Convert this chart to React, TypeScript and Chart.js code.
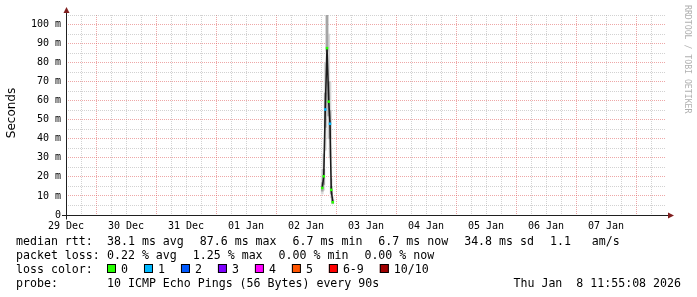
import React, { useEffect, useRef } from 'react';
import { Chart, registerables } from 'chart.js';

Chart.register(...registerables);

// x axis: hours since 29 Dec 12:00 (10 day window)
const dayLabels = ['29 Dec', '30 Dec', '31 Dec', '01 Jan', '02 Jan', '03 Jan', '04 Jan', '05 Jan', '06 Jan', '07 Jan'];
const yTickLabels = ['0', '10 m', '20 m', '30 m', '40 m', '50 m', '60 m', '70 m', '80 m', '90 m', '100 m'];

const sampleHours = [102.5, 103.1, 103.7, 104.4, 105.1, 105.6, 106.1, 106.7];
const medianMs = [14.2, 20.3, 55.4, 87.6, 59.5, 47.9, 13.2, 6.7];
const lossCount = [0, 0, 1, 0, 0, 1, 0, 0];
const smokeLowMs = [11, 13, 34, 56, 40, 30, 9, 5.8];
const smokeHighMs = [24, 32, 80, 105, 95, 70, 19, 9.5];
const smokeCoreLowMs = [12.5, 16, 46, 86, 52, 40, 11, 6.2];
const smokeCoreHighMs = [17, 24, 64, 105, 70, 55, 15, 8];

const lossLabels = ['0', '1', '2', '3', '4', '5', '6-9', '10/10'];
const lossColors = ['#26ff00', '#00b8ff', '#0059ff', '#7e00ff', '#ff00ff', '#ff5500', '#ff0000', '#a10000'];

const rttStats = ['38.1 ms avg', '87.6 ms max', '6.7 ms min', '6.7 ms now', '34.8 ms sd', '1.1   am/s'];
const lossStats = ['0.22 % avg', '1.25 % max', '0.00 % min', '0.00 % now'];
const probeText = '10 ICMP Echo Pings (56 Bytes) every 90s';
const stampText = 'Thu Jan  8 11:55:08 2026';

const lossIndex = (c: number) => (c <= 5 ? c : c < 10 ? 6 : 7);

const MONO = '"DejaVu Sans Mono", monospace';

const rrdPlugin = {
  id: 'rrdDecor',
  afterDatasetsDraw(chart: any) {
    const { ctx, chartArea: a } = chart;
    const x0 = Math.round(a.left) + 0.5;
    const y0 = Math.round(a.bottom) + 0.5;
    const xr = Math.round(a.right);
    const yt = Math.round(a.top);
    ctx.save();
    ctx.strokeStyle = '#1f1f1f';
    ctx.lineWidth = 1;
    ctx.beginPath();
    ctx.moveTo(x0 - 4.5, y0);
    ctx.lineTo(xr + 4, y0);
    ctx.moveTo(x0, y0 + 4);
    ctx.lineTo(x0, yt - 4);
    ctx.stroke();
    ctx.fillStyle = '#801f1f';
    ctx.beginPath();
    ctx.moveTo(xr + 2, y0 - 3);
    ctx.lineTo(xr + 2, y0 + 3);
    ctx.lineTo(xr + 8, y0);
    ctx.closePath();
    ctx.fill();
    ctx.beginPath();
    ctx.moveTo(x0 - 3, yt - 2);
    ctx.lineTo(x0 + 3, yt - 2);
    ctx.lineTo(x0, yt - 8);
    ctx.closePath();
    ctx.fill();
    ctx.restore();
  },
  afterDraw(chart: any) {
    const { ctx } = chart;
    ctx.save();
    ctx.fillStyle = '#000';
    // y axis title
    ctx.save();
    ctx.font = '12px "DejaVu Sans", sans-serif';
    ctx.translate(14.5, 113);
    ctx.rotate(-Math.PI / 2);
    ctx.textAlign = 'center';
    ctx.textBaseline = 'alphabetic';
    ctx.fillText('Seconds', 0, 0);
    ctx.restore();
    // watermark
    ctx.save();
    ctx.font = '8.2px ' + MONO;
    ctx.fillStyle = '#b0b0b0';
    ctx.translate(685, 5);
    ctx.rotate(Math.PI / 2);
    ctx.textAlign = 'left';
    ctx.textBaseline = 'alphabetic';
    ctx.fillText('RRDTOOL / TOBI OETIKER', 0, 0);
    ctx.restore();
    // legend
    ctx.font = '11.6px ' + MONO;
    ctx.textAlign = 'left';
    ctx.textBaseline = 'alphabetic';
    const labelX = 16;
    const startX = 107;
    const gap = 16;
    const b1 = 245, b2 = 259, b3 = 273, b4 = 287;
    const row = (label: string, items: string[], base: number) => {
      ctx.fillText(label, labelX, base);
      let x = startX;
      for (const it of items) {
        ctx.fillText(it, x, base);
        x += ctx.measureText(it).width + gap;
      }
    };
    row('median rtt:', rttStats, b1);
    row('packet loss:', lossStats, b2);
    ctx.fillText('loss color:', labelX, b3);
    let x = startX;
    lossLabels.forEach((lab, i) => {
      ctx.fillStyle = lossColors[i];
      ctx.fillRect(x, b3 - 9, 9, 9);
      ctx.strokeStyle = '#000';
      ctx.lineWidth = 1;
      ctx.strokeRect(x + 0.5, b3 - 8.5, 8, 8);
      ctx.fillStyle = '#000';
      ctx.fillText(lab, x + 14, b3);
      x += 14 + ctx.measureText(lab).width + gap;
    });
    ctx.fillText('probe:', labelX, b4);
    ctx.fillText(probeText, startX, b4);
    ctx.textAlign = 'right';
    ctx.fillText(stampText, 681, b4);
    ctx.restore();
  },
};

const GREY = 'rgba(143,143,143,0.4)';
const RED = 'rgba(222,79,79,0.5)';

export default function App() {
  const ref = useRef<HTMLCanvasElement>(null);
  useEffect(() => {
    if (!ref.current) return;
    const chart = new Chart(ref.current, {
      type: 'line',
      data: {
        datasets: [
          {
            type: 'line',
            data: sampleHours.map((h, i) => ({ x: h, y: medianMs[i] })),
            borderColor: '#1c1c1c',
            borderWidth: 1.6,
            tension: 0,
            pointStyle: 'rect',
            pointRadius: 1.8,
            pointBorderWidth: 0,
            pointBackgroundColor: lossCount.map((c) => lossColors[lossIndex(c)]),
            order: 1,
          } as any,
          {
            type: 'bar',
            data: sampleHours.map((h, i) => ({ x: h, y: [smokeCoreLowMs[i], smokeCoreHighMs[i]] })),
            backgroundColor: '#a4a4a4',
            borderWidth: 0,
            barThickness: 2,
            grouped: false,
            order: 2,
          } as any,
          {
            type: 'bar',
            data: sampleHours.map((h, i) => ({ x: h, y: [smokeLowMs[i], smokeHighMs[i]] })),
            backgroundColor: '#dadada',
            borderWidth: 0,
            barThickness: 2,
            grouped: false,
            order: 3,
          } as any,
        ],
      },
      options: {
        animation: false,
        responsive: false,
        devicePixelRatio: 1,
        layout: { padding: { left: 0, right: 31, top: 15, bottom: 0 } },
        plugins: { legend: { display: false }, tooltip: { enabled: false }, title: { display: false } },
        scales: {
          x: {
            type: 'linear',
            min: 0,
            max: 240,
            offset: false,
            afterFit: (s: any) => { s.height = 82; },
            grid: {
              offset: false,
              drawTicks: false,
              lineWidth: 1,
              color: (c: any) => {
                const v = c.tick ? Math.round(c.tick.value) : -1;
                if (v <= 0 || v >= 240) return 'rgba(0,0,0,0)';
                return v % 24 === 12 ? RED : GREY;
              },
            },
            border: { display: false, dash: [1, 1] },
            ticks: {
              stepSize: 6,
              autoSkip: false,
              maxRotation: 0,
              minRotation: 0,
              padding: 5,
              color: '#000',
              font: { family: MONO, size: 10 },
              callback: (v: any) => {
                const n = Math.round(Number(v));
                if (n % 24 === 0 && n / 24 < dayLabels.length) return dayLabels[n / 24];
                return '';
              },
            },
          },
          y: {
            type: 'linear',
            min: 0,
            max: 105,
            afterFit: (s: any) => { s.width = 66; },
            grid: {
              drawTicks: false,
              lineWidth: 1,
              color: (c: any) => {
                const v = c.tick ? Math.round(c.tick.value) : -1;
                if (v <= 0) return 'rgba(0,0,0,0)';
                return v % 10 === 0 ? RED : GREY;
              },
            },
            border: { display: false, dash: [1, 1] },
            ticks: {
              stepSize: 5,
              autoSkip: false,
              includeBounds: false,
              padding: 5,
              color: '#000',
              font: { family: MONO, size: 10 },
              callback: (v: any) => {
                const n = Math.round(Number(v));
                if (n % 10 === 0) return yTickLabels[n / 10] ?? '';
                return '';
              },
            },
          },
        },
      },
      plugins: [rrdPlugin],
    } as any);
    return () => chart.destroy();
  }, []);
  return (
    <div style={{ position: 'absolute', left: 0, top: 0, width: 697, height: 297, background: '#fff' }}>
      <canvas ref={ref} width={697} height={297} style={{ display: 'block', width: 697, height: 297 }} />
    </div>
  );
}
